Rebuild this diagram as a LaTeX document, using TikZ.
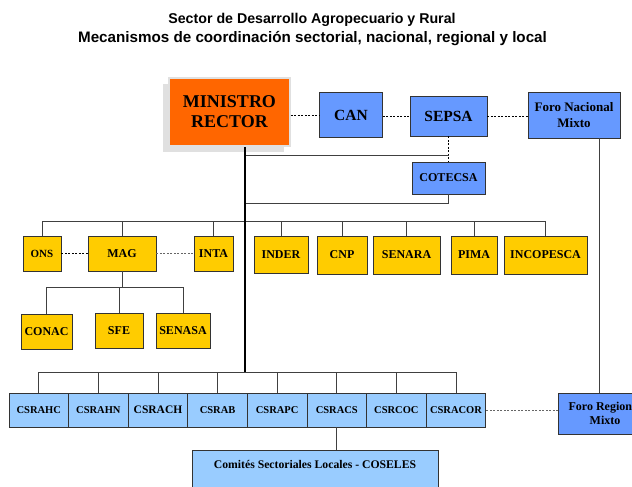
\documentclass[tikz,border=0pt]{standalone}
\usepackage{fontspec}
\setmainfont{Liberation Serif}
\newfontfamily\titlefont{Liberation Sans}
\usetikzlibrary{shadows}
\definecolor{naranja}{HTML}{FF6600}
\definecolor{azul}{HTML}{6699FF}
\definecolor{celeste}{HTML}{99CCFF}
\definecolor{amarillo}{HTML}{FFCC00}

\begin{document}
\begin{tikzpicture}[x=1pt, y=-1pt,
  fs/.style 2 args={font=\fontsize{#1}{#2}\selectfont\bfseries},
  caja/.style={draw=black!80, line width=0.9pt, inner sep=1pt, align=center, fs={12}{13}},
  naranjabox/.style={caja, fill=naranja, draw=black!12, line width=1.6pt,
    drop shadow={shadow xshift=-6pt, shadow yshift=-6pt, fill=black!12, opacity=1}},
  azulbox/.style={caja, fill=azul},
  celestebox/.style={caja, fill=celeste},
  amarillobox/.style={caja, fill=amarillo},
  titulo/.style={font=\titlefont\bfseries},
  linea/.style={black!75, line width=0.9pt},
  punteada/.style={line width=0.9pt, dash pattern=on 2pt off 1.5pt},
]
  \useasboundingbox (0,0) rectangle (632,487);
  \clip (0,0) rectangle (632,487);

  % titulos
  \node[titulo, font=\titlefont\bfseries\fontsize{14.2}{16}\selectfont] (tit1) at (312,20) {Sector de Desarrollo Agropecuario y Rural};
  \node[titulo, font=\titlefont\bfseries\fontsize{15.2}{17}\selectfont] (tit2) at (312.5,38.5) {Mecanismos de coordinación sectorial, nacional, regional y local};

  % nivel superior
  \node[naranjabox, fs={18}{20}, minimum width=121, minimum height=68] (ministro) at (229.5,112) {MINISTRO\\RECTOR};
  \node[azulbox, fs={15.5}{17}, minimum width=63, minimum height=45] (can) at (351,115) {CAN};
  \node[azulbox, fs={15.5}{17}, minimum width=77, minimum height=40] (sepsa) at (448.5,116) {SEPSA};
  \node[azulbox, fs={13}{16}, minimum width=92, minimum height=46] (foron) at (574,115) {Foro Nacional\\Mixto};
  \node[azulbox, minimum width=73, minimum height=32] (cotecsa) at (448.5,178) {COTECSA};

  \coordinate (tronco) at (245,372);
  \coordinate (foroeje) at (599,0);
  \coordinate (b1) at (0,221);
  \coordinate (b2) at (0,287);
  \coordinate (b3) at (0,372);

  \draw[punteada] (ministro.east |- can.west) -- (can.west);
  \draw[punteada] (can.east |- sepsa.west) -- (sepsa.west);
  \draw[punteada] (sepsa.east) -- (sepsa.east -| foron.west);
  \draw[punteada] (sepsa.south) -- (cotecsa.north);
  \draw[linea] (tronco |- 0,155) -- (sepsa.south |- 0,155);
  \draw[linea] (cotecsa.south) -- (cotecsa.south |- 0,203) -- (tronco |- 0,203);

  % instituciones
  \node[amarillobox, fs={11}{12}, minimum width=38, minimum height=35] (ons) at (42,253.5) {ONS};
  \node[amarillobox, minimum width=68, minimum height=35] (mag) at (122,253.5) {MAG};
  \node[amarillobox, minimum width=39, minimum height=35] (inta) at (213.5,253.5) {INTA};
  \node[amarillobox, minimum width=54, minimum height=37] (inder) at (281,254.5) {INDER};
  \node[amarillobox, minimum width=50, minimum height=38] (cnp) at (342,255) {CNP};
  \node[amarillobox, minimum width=67, minimum height=38] (senara) at (406.5,255) {SENARA};
  \node[amarillobox, minimum width=46, minimum height=38] (pima) at (474,255) {PIMA};
  \node[amarillobox, minimum width=83, minimum height=38] (incopesca) at (545.5,255) {INCOPESCA};

  \draw[linea] (ons.north) -- (ons.north |- b1) -- (incopesca.north |- b1) -- (incopesca.north);
  \foreach \n in {mag,inta,inder,cnp,senara,pima}
    \draw[linea] (\n.north) -- (\n.north |- b1);
  \draw[punteada] (ons.east) -- (mag.west);
  \draw[punteada, black!60] (mag.east) -- (inta.west);

  % adscritas al MAG
  \node[amarillobox, minimum width=51, minimum height=35] (conac) at (46.5,331.5) {CONAC};
  \node[amarillobox, minimum width=48, minimum height=35] (sfe) at (119,330.5) {SFE};
  \node[amarillobox, minimum width=54, minimum height=35] (senasa) at (183,330.5) {SENASA};
  \draw[linea] (mag.south) -- (mag.south |- b2);
  \draw[linea] (conac.north) -- (conac.north |- b2) -- (senasa.north |- b2) -- (senasa.north);
  \draw[linea] (sfe.north) -- (sfe.north |- b2);

  % nivel regional
  \foreach \n/\t/\s [count=\i from 0] in {csrahc/CSRAHC/10.5, csrahn/CSRAHN/10.5, csrach/CSRACH/11.5,
      csrab/CSRAB/10.5, csrapc/CSRAPC/10.5, csracs/CSRACS/10.5, csrcoc/CSRCOC/10.5, csracor/CSRACOR/10.5}
    \node[celestebox, fs={\s}{\s}, minimum width=59.6, minimum height=34] (\n) at ({9+59.6*(\i+0.5)},410) {\t};
  \draw[linea] (csrahc.north) -- (csrahc.north |- b3) -- (csracor.north |- b3) -- (csracor.north);
  \foreach \n in {csrahn,csrach,csrab,csrapc,csracs,csrcoc}
    \draw[linea] (\n.north) -- (\n.north |- b3);
  \draw[black, line width=2pt] (ministro.south -| tronco) -- (tronco);

  \node[azulbox, fs={12}{14}, minimum width=94, minimum height=41] (foror) at (605,413.5) {Foro Regional\\Mixto};
  \draw[punteada, black!60] (csracor.east) -- (csracor.east -| foror.west);
  \draw[linea] (foron.south -| foroeje) -- (foror.north -| foroeje);

  % nivel local
  \node[celestebox, fs={11.7}{13}, minimum width=246, text height=17, text depth=24, inner sep=1pt, anchor=north] (coseles) at (315,450) {Comités Sectoriales Locales - COSELES};
  \draw[linea] (csracs.south) -- (csracs.south |- coseles.north);
\end{tikzpicture}
\end{document}
